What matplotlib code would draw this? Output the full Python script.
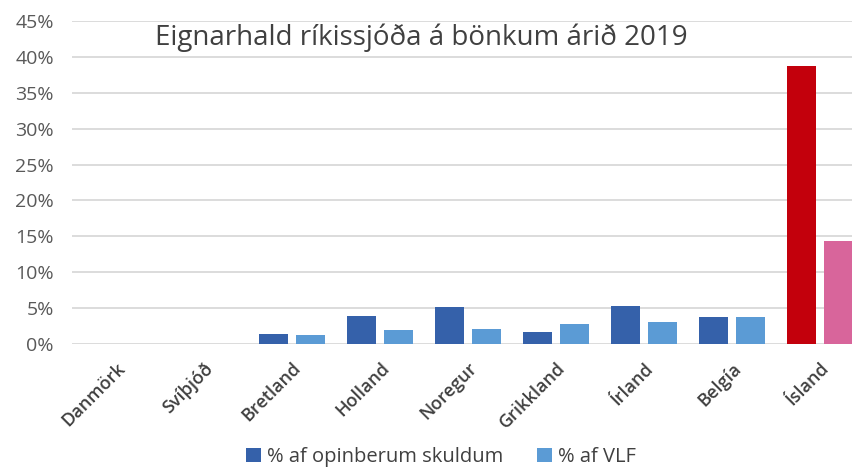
import matplotlib
matplotlib.use("Agg")
import matplotlib.pyplot as plt
import numpy as np
from matplotlib.patches import Patch

countries = ["Danmörk", "Svíþjóð", "Bretland", "Holland", "Noregur",
             "Grikkland", "Írland", "Belgía", "Ísland"]
pct_debt = [0.0, 0.0, 1.4, 3.9, 5.15, 1.65, 5.3, 3.8, 38.75]
pct_gdp = [0.0, 0.0, 1.2, 1.95, 2.1, 2.8, 3.1, 3.75, 14.35]
yticks = [0, 5, 10, 15, 20, 25, 30, 35, 40, 45]
title = "Eignarhald ríkissjóða á bönkum árið 2019"
series_names = ["% af opinberum skuldum", "% af VLF"]

dark = "#3561AA"
light = "#5B9BD5"
red = "#C3000C"
pink = "#D8659B"
highlight = "Ísland"

plt.rcParams['font.family'] = ['Open Sans', 'DejaVu Sans']

fig = plt.figure(figsize=(8.53, 4.69), dpi=100)
ax = fig.add_axes([72/853, 1-344/469, (864-72)/853, (344-21)/469])

x = np.arange(len(countries))
w = 0.33
off = 0.205
c1 = [red if c == highlight else dark for c in countries]
c2 = [pink if c == highlight else light for c in countries]
ax.bar(x - off, pct_debt, width=w, color=c1, zorder=3)
ax.bar(x + off, pct_gdp, width=w, color=c2, zorder=3)

ax.set_xlim(-0.5, len(countries) - 0.5)
ax.set_ylim(0, 45)
ax.set_yticks(yticks)
ax.set_yticklabels([f"{v}%" for v in yticks], color="#595959", fontsize=14)
ax.yaxis.grid(True, color="#D9D9D9", linewidth=1.3, zorder=0)
ax.set_axisbelow(True)
for s in ax.spines.values():
    s.set_visible(False)
ax.tick_params(axis='both', length=0)
ax.tick_params(axis='y', pad=13)

ax.set_xticks(x)
ax.set_xticklabels(countries, rotation=45, ha='right', rotation_mode='anchor',
                   fontsize=13, fontweight='semibold', color="#404040")
ax.tick_params(axis='x', pad=11)

fig.text(155/853, 1-38/469, title, fontsize=20, color="#404040",
         ha='left', va='center')

handles = [Patch(facecolor=dark), Patch(facecolor=light)]
fig.legend(handles, series_names, loc='center', bbox_to_anchor=(441/853, 1-457/469),
           ncol=2, frameon=False, fontsize=14.5, labelcolor="#404040",
           handlelength=0.75, handleheight=0.75, handletextpad=0.3, columnspacing=1.7)

fig.savefig("out.png", dpi=100)
